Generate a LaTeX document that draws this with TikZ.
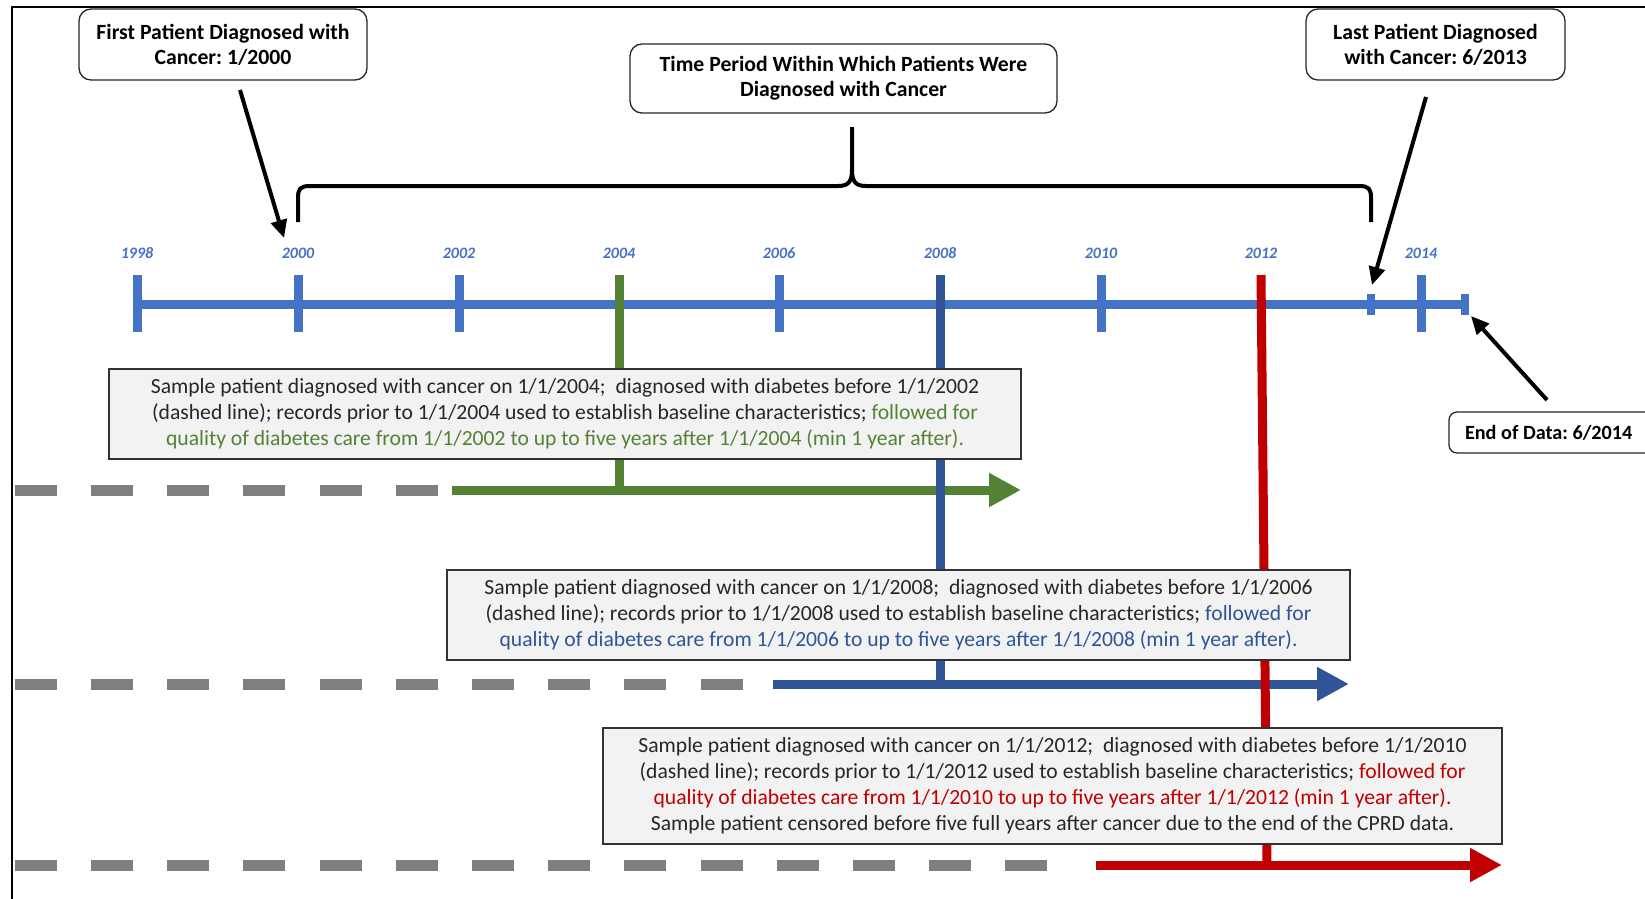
\documentclass[tikz,border=0pt]{standalone}
\usepackage{fontspec}
\setmainfont{Carlito}
\usetikzlibrary{arrows.meta}
\definecolor{tlblue}{HTML}{4472C4}
\definecolor{pgreen}{HTML}{548235}
\definecolor{pblue}{HTML}{2F5597}
\definecolor{pred}{HTML}{C00000}
\definecolor{dashgray}{HTML}{7F7F7F}
\definecolor{boxfill}{HTML}{F2F2F2}
\tikzset{
  callout/.style={draw=black!85, fill=white, rounded corners=12bp, line width=1.3bp, inner sep=0pt, align=center, font=\frenchspacing\bfseries\fontsize{21.8}{25}\selectfont},
  graybox/.style={draw=black!80, fill=boxfill, line width=1.3bp, inner sep=0pt, align=center, font=\frenchspacing\fontsize{21.7}{26}\selectfont, text=black!85},
  yearlbl/.style={text=tlblue, font=\bfseries\itshape\fontsize{16}{18}\selectfont, inner sep=0pt},
  tl/.style={tlblue, line width=9bp},
  gdash/.style={dashgray, line width=11bp, dash pattern=on 42bp off 34.2bp},
  bigarrow/.style={line width=9bp, -{Triangle[length=32bp,width=32bp]}},
  blkarrow/.style={black, line width=4bp, -{Triangle[length=18bp,width=16bp]}},
}
\begin{document}
\begin{tikzpicture}[x=1bp,y=-1bp]
\clip (0,0) rectangle (1645,898);
\fill[white] (0,0) rectangle (1645,898);
\draw[line width=2bp] (12,7) rectangle (1700,960);

% callouts
\node[callout, minimum width=288bp, minimum height=71bp] (b1) at (223,44.5) {First Patient Diagnosed with\\Cancer: 1/2000};
\node[callout, minimum width=427bp, minimum height=69bp] (b2) at (843.5,78.5) {Time Period Within Which Patients Were\\Diagnosed with Cancer};
\node[callout, minimum width=259bp, minimum height=71bp] (b3) at (1435.5,44.5) {Last Patient Diagnosed\\with Cancer: 6/2013};
\node[callout, minimum width=230bp, minimum height=41bp, rounded corners=8bp, font=\frenchspacing\bfseries\fontsize{20.3}{24}\selectfont] (b4) at (1564,432.5) {\makebox[198bp][l]{End of Data: 6/2014}};

% year labels
\foreach \x/\y in {137/1998,298/2000,459/2002,619/2004,779/2006,940/2008,1101/2010,1261/2012,1421/2014}
  \node[yearlbl] (y\y) at (\x,253) {\y};

% timeline
\draw[tl] (137,304) -- (1465,304);
\foreach \x in {137,298,459,779,1101,1421}
  \draw[tl] (\x,275) -- (\x,332);
\draw[tlblue, line width=8bp] (1371,294) -- (1371,315);
\draw[tlblue, line width=8bp] (1465,294) -- (1465,315);

% coordinates
\coordinate (t2013) at (1372,285);
\coordinate (t2000) at (284,238);
\coordinate (tend) at (1471,316);
\coordinate (s1) at (240,90);
\coordinate (s3) at (1426,97);
\coordinate (s4) at (1547,400);

% dashed rows and arrows
\coordinate (g0) at (452,490); \coordinate (g1) at (1021,490);
\coordinate (u0) at (773,684); \coordinate (u1) at (1349,684);
\coordinate (r0) at (1096,865); \coordinate (r1) at (1502,865);
\draw[gdash] (14.7,490) -- (437.7,490);
\draw[gdash] (14.7,684) -- (742.5,684);
\draw[gdash] (14.7,865) -- (1047.3,865);
\draw[bigarrow, pgreen] (g0) -- (g1);
\draw[bigarrow, pblue] (u0) -- (u1);
\draw[bigarrow, pred] (r0) -- (r1);

% colored verticals
\draw[pgreen, line width=9bp] (619,275) -- (619,490);
\draw[pblue, line width=9bp] (940,275) -- (940,684);
\draw[pred, line width=9bp] (1261,275) -- (1267,865);

% gray boxes
\node[graybox, minimum width=912bp, minimum height=90bp] (bA) at (565,414) {Sample patient diagnosed with cancer on 1/1/2004;\ \ diagnosed with diabetes before 1/1/2002\\(dashed line); records prior to 1/1/2004 used to establish baseline characteristics; \textcolor{pgreen}{followed for}\\\textcolor{pgreen}{quality of diabetes care from 1/1/2002 to up to five years after 1/1/2004 (min 1 year after).}};
\node[graybox, minimum width=903bp, minimum height=90bp] (bB) at (898.5,615) {Sample patient diagnosed with cancer on 1/1/2008;\ \ diagnosed with diabetes before 1/1/2006\\(dashed line); records prior to 1/1/2008 used to establish baseline characteristics; \textcolor{pblue}{followed for}\\\textcolor{pblue}{quality of diabetes care from 1/1/2006 to up to five years after 1/1/2008 (min 1 year after).}};
\node[graybox, minimum width=899bp, minimum height=116bp] (bC) at (1052.5,786) {Sample patient diagnosed with cancer on 1/1/2012;\ \ diagnosed with diabetes before 1/1/2010\\(dashed line); records prior to 1/1/2012 used to establish baseline characteristics; \textcolor{pred}{followed for}\\\textcolor{pred}{quality of diabetes care from 1/1/2010 to up to five years after 1/1/2012 (min 1 year after).}\\Sample patient censored before five full years after cancer due to the end of the CPRD data.};

% brace
\draw[black, line width=4bp, line join=round]
  (298,222) -- (298,198) .. controls (298,189) and (300,186) .. (310,186)
  -- (838,186) .. controls (848,186) and (852,182) .. (852,170) -- (852,127);
\draw[black, line width=4bp, line join=round]
  (852,170) .. controls (852,182) and (856,186) .. (866,186)
  -- (1359,186) .. controls (1369,186) and (1371,189) .. (1371,198) -- (1371,222);

% black arrows
\draw[blkarrow] (s1) -- (t2000);
\draw[blkarrow] (s3) -- (t2013);
\draw[blkarrow] (s4) -- (tend);
\end{tikzpicture}
\end{document}
